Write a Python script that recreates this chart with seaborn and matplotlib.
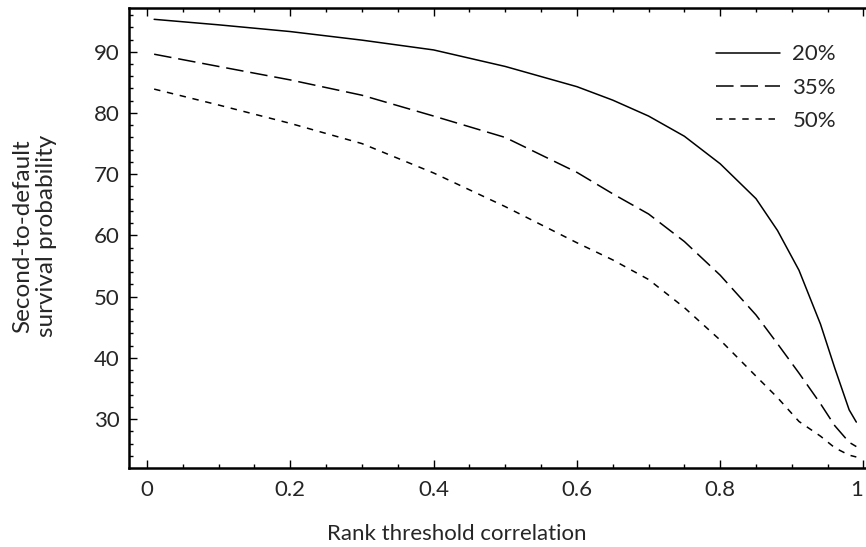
import numpy as np
import pandas as pd
import matplotlib
matplotlib.use("Agg")
import matplotlib.pyplot as plt
import seaborn as sns

# ---- data ----
rho = [0.01, 0.1, 0.2, 0.3, 0.4, 0.5, 0.6, 0.65, 0.7, 0.75, 0.8, 0.85,
       0.88, 0.91, 0.94, 0.96, 0.98, 0.99]
surv_20 = [95.3, 94.4, 93.3, 91.9, 90.3, 87.6, 84.3, 82.1, 79.5, 76.2, 71.7,
           66.0, 60.8, 54.3, 45.5, 38.3, 31.5, 29.5]
surv_35 = [89.6, 87.6, 85.4, 82.9, 79.5, 76.0, 70.3, 66.8, 63.5, 59.0, 53.5,
           47.0, 42.3, 37.5, 32.5, 28.9, 26.2, 25.5]
surv_50 = [83.9, 81.3, 78.3, 75.0, 70.2, 64.7, 58.8, 56.0, 52.8, 48.2, 42.9,
           37.0, 33.5, 29.6, 27.2, 25.3, 24.1, 23.8]
series_labels = ["20%", "35%", "50%"]
x_ticks = [0, 0.2, 0.4, 0.6, 0.8, 1]
x_ticklabels = ["0", "0.2", "0.4", "0.6", "0.8", "1"]
y_ticks = [30, 40, 50, 60, 70, 80, 90]

df = pd.concat([
    pd.DataFrame({"rho": rho, "surv": s, "series": lab})
    for s, lab in zip([surv_20, surv_35, surv_50], series_labels)
])

sns.set_theme(style="ticks")
plt.rcParams["font.family"] = ["Lato", "DejaVu Sans"]

fig = plt.figure(figsize=(8.66, 5.47), dpi=100)
ax = fig.add_axes([129 / 866, 79 / 547, 740 / 866, 460 / 547])

dash_map = {"20%": "", "35%": (11.5, 4.5), "50%": (4.2, 4.4)}
sns.lineplot(data=df, x="rho", y="surv", style="series", dashes=dash_map,
             color="black", linewidth=1.1, ax=ax, legend=True)

ax.set_xlim(-0.0251, 1.0077)
ax.set_ylim(22.0, 97.15)
ax.set_xticks(x_ticks)
ax.set_xticklabels(x_ticklabels)
ax.set_yticks(y_ticks)
ax.set_xticks(np.arange(0, 1.001, 0.05), minor=True)
ax.set_yticks(np.arange(24, 97, 2), minor=True)

ax.tick_params(which="both", direction="in", top=True, right=False,
               width=1.0, color="black", labelsize=16)
ax.tick_params(axis="x", which="major", pad=9)
ax.tick_params(axis="y", which="major", pad=7)
ax.tick_params(which="major", length=6)
ax.tick_params(which="minor", length=3)
ax.get_xticklabels()[-1].set_horizontalalignment("right")

for side in ["left", "bottom", "top"]:
    ax.spines[side].set_linewidth(1.8)
    ax.spines[side].set_color("black")
ax.spines["right"].set_visible(False)

ax.set_xlabel("Rank threshold correlation", fontsize=16, va="top")
ax.xaxis.set_label_coords(0.443, -0.121)
ax.set_ylabel("Second-to-default\nsurvival probability", fontsize=17.5,
              linespacing=1.15)
ax.yaxis.set_label_coords(-0.097, 0.505)

leg = ax.legend(title=None, frameon=False, fontsize=16, loc="upper left",
                bbox_to_anchor=(0.793, 0.921), borderaxespad=0, borderpad=0,
                handlelength=2.9, handletextpad=0.55, labelspacing=0.6)

fig.savefig("out.png", dpi=100)
